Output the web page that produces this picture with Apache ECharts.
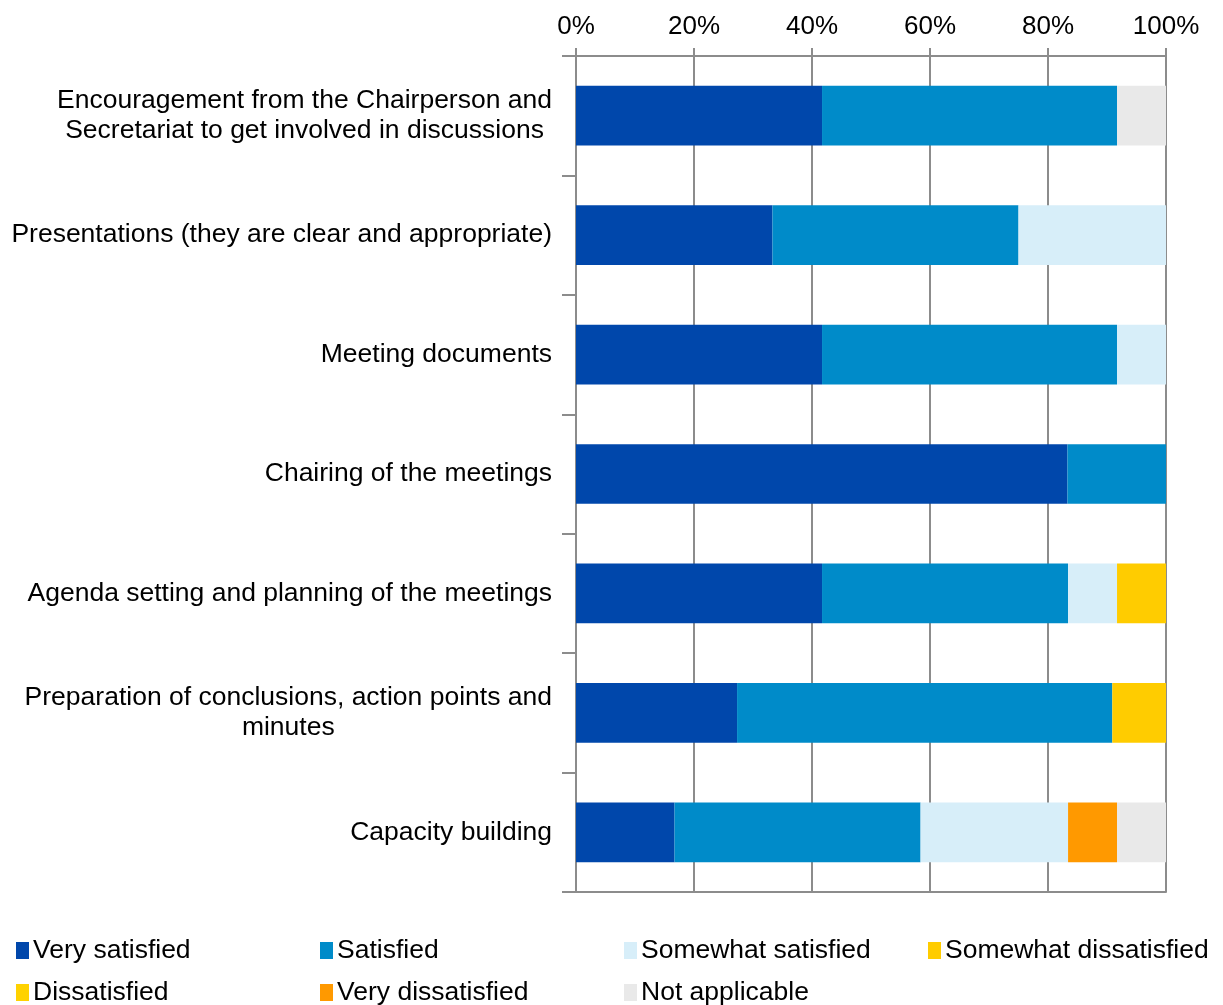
<!DOCTYPE html>
<html>
<head>
<meta charset="utf-8">
<script src="https://cdn.jsdelivr.net/npm/echarts@6/dist/echarts.min.js"></script>
<style>
  html, body { margin: 0; padding: 0; background: #fff; }
  #main { width: 1223px; height: 1005px; }
</style>
</head>
<body>
<div id="main"></div>
<script>
// categories, top to bottom
const categories = [
  'Encouragement from the Chairperson and\nSecretariat to get involved in discussions',
  'Presentations (they are clear and appropriate)',
  'Meeting documents',
  'Chairing of the meetings',
  'Agenda setting and planning of the meetings',
  'Preparation of conclusions, action points and\nminutes',
  'Capacity building'
];
const seriesNames = ['Very satisfied', 'Satisfied', 'Somewhat satisfied', 'Somewhat dissatisfied',
  'Dissatisfied', 'Very dissatisfied', 'Not applicable'];
const colors = ['#0047AB', '#008BC9', '#D7EEF9', '#FFCC00', '#FFD200', '#FF9900', '#E9E9E9'];

// % of answers per category (same order as categories)
const verySatisfied = [41.7, 33.3, 41.7, 83.3, 41.7, 27.3, 16.7];
const satisfied = [50.0, 41.7, 50.0, 16.7, 41.7, 63.6, 41.7];
const somewhatSatisfied = [0, 25.0, 8.3, 0, 8.3, 0, 25.0];
const somewhatDissatisfied = [0, 0, 0, 0, 8.3, 9.1, 0];
const dissatisfied = [0, 0, 0, 0, 0, 0, 0];
const veryDissatisfied = [0, 0, 0, 0, 0, 0, 8.3];
const notApplicable = [8.3, 0, 0, 0, 0, 0, 8.3];

const values = [verySatisfied, satisfied, somewhatSatisfied, somewhatDissatisfied,
  dissatisfied, veryDissatisfied, notApplicable];

const gridColor = '#8C8C8C';
const font = '"Liberation Sans", Arial, sans-serif';

const myChart = echarts.init(document.getElementById('main'));
myChart.setOption({
  animation: false,
  color: colors,
  textStyle: { fontFamily: font },
  grid: { left: 576, right: 57, top: 56, bottom: 113, containLabel: false },
  legend: {
    data: seriesNames,
    left: 16,
    top: 937,
    width: 1205,
    icon: 'rect',
    itemWidth: 13,
    itemHeight: 17,
    itemGap: 15,
    padding: 0,
    textStyle: {
      color: '#000',
      fontSize: 26.5,
      fontFamily: font,
      width: 272,
      lineHeight: 25,
      padding: [0, 0, 0, -1]
    }
  },
  xAxis: [
    {
      type: 'value',
      position: 'top',
      min: 0,
      max: 100,
      interval: 20,
      axisLine: { show: true, lineStyle: { color: gridColor, width: 2 } },
      axisTick: { show: true, length: 8, lineStyle: { color: gridColor, width: 2 } },
      axisLabel: { formatter: '{value}%', color: '#000', fontSize: 26, margin: 16, fontFamily: font },
      splitLine: { show: true, lineStyle: { color: gridColor, width: 2 } }
    },
    {
      type: 'value',
      position: 'bottom',
      min: 0,
      max: 100,
      interval: 20,
      axisLine: { show: true, lineStyle: { color: gridColor, width: 2 } },
      axisTick: { show: false },
      axisLabel: { show: false },
      splitLine: { show: false }
    }
  ],
  yAxis: {
    type: 'category',
    inverse: true,
    data: categories,
    axisLine: { show: true, lineStyle: { color: gridColor, width: 2 } },
    axisTick: { show: true, length: 14, lineStyle: { color: gridColor, width: 2 } },
    axisLabel: {
      margin: 24,
      color: '#000',
      formatter: function (v) {
        return v.split('\n').map(function (s) { return '{c|' + s + '}'; }).join('\n');
      },
      rich: {
        c: { align: 'center', fontSize: 26.5, lineHeight: 30, color: '#000', fontFamily: font }
      }
    }
  },
  series: seriesNames.map(function (name, i) {
    return {
      name: name,
      type: 'bar',
      stack: 'total',
      barWidth: '50%',
      xAxisIndex: 0,
      data: values[i]
    };
  })
});
</script>
</body>
</html>
